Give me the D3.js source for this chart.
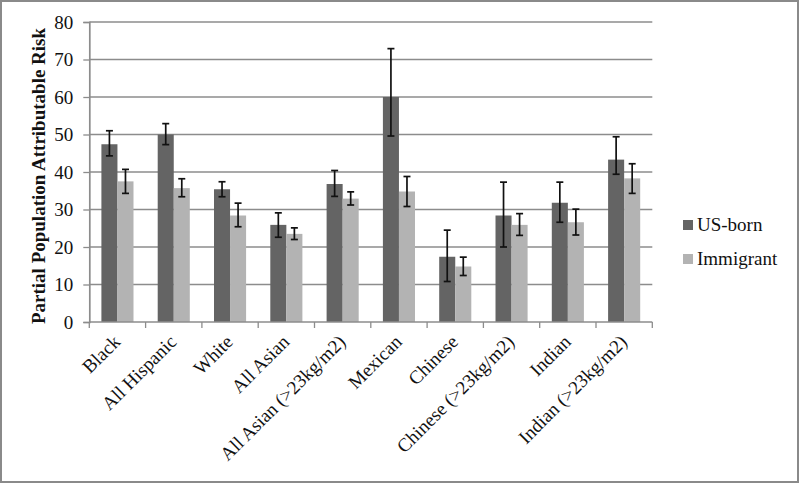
<!DOCTYPE html>
<html>
<head>
<meta charset="utf-8">
<script src="https://cdn.jsdelivr.net/npm/d3@7"></script>
<style>
html,body{margin:0;padding:0;background:#fff;}
svg{display:block;}
svg text{font-family:"Liberation Serif","Times New Roman",serif;}
</style>
</head>
<body>
<svg id="chart" width="800" height="485"></svg>
<script>
const categories = ["Black","All Hispanic","White","All Asian","All Asian (>23kg/m2)","Mexican","Chinese","Chinese (>23kg/m2)","Indian","Indian (>23kg/m2)"];
const seriesNames = ["US-born","Immigrant"];
const usBorn      = [47.4, 50.0, 35.4, 25.9, 36.8, 60.0, 17.4, 28.4, 31.8, 43.3];
const usBornLow   = [44.3, 47.3, 33.4, 22.6, 33.5, 49.6, 10.8, 20.0, 26.6, 39.4];
const usBornHigh  = [51.0, 52.9, 37.4, 29.1, 40.4, 72.9, 24.5, 37.3, 37.3, 49.4];
const immigrant     = [37.5, 35.7, 28.4, 23.5, 32.9, 34.8, 14.8, 25.9, 26.6, 38.3];
const immigrantLow  = [34.3, 33.4, 25.4, 22.0, 31.2, 30.8, 12.4, 23.1, 23.2, 34.3];
const immigrantHigh = [40.7, 38.2, 31.7, 25.1, 34.7, 38.8, 17.3, 28.9, 30.1, 42.2];
const yTicks = [0,10,20,30,40,50,60,70,80];
const colors = ["#646464","#b3b3b3"];

(function(){
const svg = d3.select("#chart");
const font = '"Liberation Serif","Times New Roman",serif';

// outer frame
svg.append("rect").attr("x",1).attr("y",1).attr("width",797).attr("height",481)
  .attr("fill","#fff").attr("stroke","#8a8a8a").attr("stroke-width",2);

const pL = 89.3, pR = 652.3, pT = 22, pB = 322;
const x = d3.scaleBand().domain(categories).range([pL,pR]).paddingInner(0.43).paddingOuter(0.215);
const y = d3.scaleLinear().domain([0,80]).range([pB,pT]);
const xs = d3.scaleBand().domain(seriesNames).range([0,x.bandwidth()]);

// gridlines
svg.append("g").selectAll("line").data(yTicks.filter(d=>d>0)).join("line")
  .attr("x1",pL).attr("x2",pR).attr("y1",d=>y(d)).attr("y2",d=>y(d))
  .attr("stroke","#8c8c8c").attr("stroke-width",1.7);

// y axis
const yAxis = svg.append("g").attr("transform",`translate(${pL},0)`)
  .call(d3.axisLeft(y).tickValues(yTicks).tickSize(6).tickPadding(10));
yAxis.attr("font-family",null);
yAxis.select(".domain").attr("stroke","#8c8c8c").attr("stroke-width",1.7);
yAxis.selectAll(".tick line").attr("stroke","#8c8c8c").attr("stroke-width",1.3);
yAxis.selectAll("text").style("font-family",font).style("font-size","19px").attr("fill","#111");

// bars
const series = [
  {name:seriesNames[0], vals:usBorn, lo:usBornLow, hi:usBornHigh},
  {name:seriesNames[1], vals:immigrant, lo:immigrantLow, hi:immigrantHigh}
];
series.forEach((s,si)=>{
  const g = svg.append("g");
  g.selectAll("rect").data(categories).join("rect")
    .attr("x",c=>x(c)+xs(s.name)).attr("width",xs.bandwidth())
    .attr("y",(c,i)=>y(s.vals[i])).attr("height",(c,i)=>y(0)-y(s.vals[i]))
    .attr("fill",colors[si]);
});

// x axis
const xAxisG = svg.append("g").attr("transform",`translate(0,${pB})`);
xAxisG.append("line").attr("x1",pL).attr("x2",pR).attr("stroke","#8c8c8c").attr("stroke-width",1.7);
const step = x.step();
const boundaries = d3.range(categories.length+1).map(i=>pL+i*step);
xAxisG.selectAll("line.tk").data(boundaries).join("line").attr("class","tk")
  .attr("x1",d=>d).attr("x2",d=>d).attr("y1",0).attr("y2",6)
  .attr("stroke","#8c8c8c").attr("stroke-width",1.3);

// error bars
series.forEach((s)=>{
  const g = svg.append("g").attr("stroke","#111").attr("stroke-width",1.7);
  categories.forEach((c,i)=>{
    const cx = x(c)+xs(s.name)+xs.bandwidth()/2;
    g.append("line").attr("x1",cx).attr("x2",cx).attr("y1",y(s.hi[i])).attr("y2",y(s.lo[i]));
    [s.hi[i],s.lo[i]].forEach(v=>{
      g.append("line").attr("x1",cx-3.5).attr("x2",cx+3.5).attr("y1",y(v)).attr("y2",y(v));
    });
  });
});

// x labels
svg.append("g").selectAll("text").data(categories).join("text")
  .attr("transform",c=>`translate(${x(c)+x.bandwidth()/2+4},${pB+21}) rotate(-45)`)
  .attr("text-anchor","end").style("font-family",font).style("font-size","19px").attr("fill","#111")
  .text(c=>c);

// y title
svg.append("text").attr("transform",`translate(45,${(pT+pB)/2+4}) rotate(-90)`)
  .attr("text-anchor","middle").style("font-family",font).attr("font-weight","bold")
  .style("font-size","19px").attr("fill","#111").text("Partial Population Attributable Risk");

// legend
const lg = svg.append("g").attr("transform","translate(683,220)");
seriesNames.forEach((n,i)=>{
  lg.append("rect").attr("x",0).attr("y",i*34).attr("width",10).attr("height",10).attr("fill",colors[i]);
  lg.append("text").attr("x",14).attr("y",i*34+11).style("font-family",font).style("font-size","19px")
    .attr("fill","#111").text(n);
});
})();
</script>
</body>
</html>
